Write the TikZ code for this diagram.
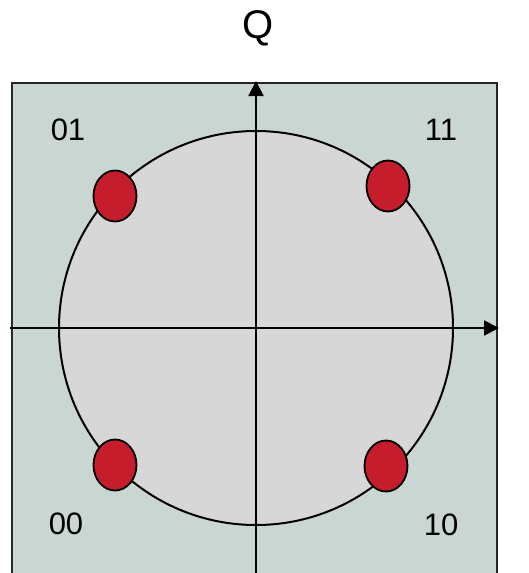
\documentclass[tikz,border=0pt]{standalone}
\usepackage{fontspec}
\setmainfont{Liberation Sans}
\usetikzlibrary{arrows.meta,shapes.geometric}
\definecolor{boxfill}{RGB}{201,214,210}
\definecolor{circfill}{RGB}{215,215,215}
\definecolor{dotred}{RGB}{198,29,45}
\tikzset{
  dot/.style={ellipse, draw=black, line width=1.8pt, fill=dotred, minimum width=43pt, minimum height=51pt, inner sep=0pt},
  lbl/.style={font=\fontsize{31}{31}\selectfont, inner sep=0pt},
  axis/.style={line width=2pt, -{Triangle[length=15pt,width=15pt]}}
}
\begin{document}
\begin{tikzpicture}[x=1pt,y=-1pt]
\useasboundingbox (0,0) rectangle (528,573);
\clip (0,0) rectangle (528,573);
\fill[white] (0,0) rectangle (528,573);
\draw[line width=2.5pt, draw=black!85, fill=boxfill] (12,83) rectangle (497,600);
\node[circle, draw=black, line width=2pt, fill=circfill, minimum size=394pt, inner sep=0pt] (c) at (256,328) {};
\coordinate (xl) at (10,328);
\coordinate (xr) at (499,328);
\coordinate (yb) at (256,590);
\coordinate (yt) at (256,81);
\draw[axis] (xl) -- (xr);
\draw[axis] (yb) -- (yt);
\node[dot] (d01) at (115,196) {};
\node[dot] (d11) at (388,186) {};
\node[dot] (d00) at (115,465) {};
\node[dot] (d10) at (386,466) {};
\node[lbl] (l01) at (68,130) {01};
\node[lbl] (l11) at (441,130) {11};
\node[lbl] (l00) at (66,524) {00};
\node[lbl] (l10) at (441,525) {10};
\node[font=\fontsize{40}{40}\selectfont, inner sep=0pt] (q) at (258,28) {Q};
\end{tikzpicture}
\end{document}
